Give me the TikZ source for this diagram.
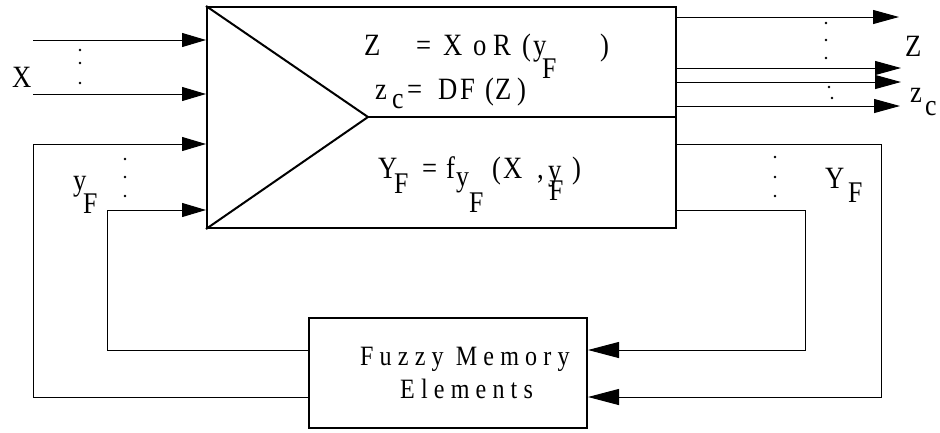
\documentclass[tikz,border=0pt]{standalone}
\usepackage{fontspec}
\setmainfont{Liberation Serif}[FakeStretch=0.86]
\newfontfamily\spacedfont{Liberation Serif}[FakeStretch=0.86,LetterSpace=22]
\usetikzlibrary{arrows.meta}
\begin{document}
\begin{tikzpicture}[x=1pt,y=-1pt,
  lbl/.style={inner sep=0,anchor=base west,font=\fontsize{31}{32}\selectfont},
  sublbl/.style={inner sep=0,anchor=base west,font=\fontsize{30}{31}\selectfont},
  wire/.style={line width=1pt},
  arr/.style={wire,-{Triangle[length=24pt,width=14pt]}},
  arrout/.style={wire,-{Triangle[length=26pt,width=14pt]}},
  arrfm/.style={wire,-{Triangle[length=31pt,width=16pt]}},
  dotmark/.style={circle,fill,inner sep=0,minimum size=2.8pt},
  boxline/.style={draw,line width=2pt,inner sep=0},
]
\useasboundingbox (0,0) rectangle (940,432);
% main block
\node[boxline,minimum width=469pt,minimum height=221pt] (main) at (441.5,117.5) {};
\coordinate (apex) at (368,117);
\draw[line width=2pt] (main.north west) -- (apex) -- (main.south west);
\draw[line width=2.6pt] (apex) -- (apex -| main.east);
% fuzzy memory block
\node[boxline,minimum width=278pt,minimum height=110pt] (fm) at (448,373) {};
\node[inner sep=0,anchor=base west,font=\spacedfont\fontsize{28}{29}\selectfont] (fmt1) at (360,365) {Fuzzy Memory};
\node[inner sep=0,anchor=base west,font=\spacedfont\fontsize{28}{29}\selectfont] (fmt2) at (400,398) {Elements};
% X inputs
\coordinate (xa) at (33,40);
\coordinate (xb) at (33,94);
\draw[arr] (xa) -- (xa -| main.west);
\draw[arr] (xb) -- (xb -| main.west);
\node[dotmark] (dx1) at (80,50) {};
\node[dotmark] (dx2) at (80,63) {};
\node[dotmark] (dx3) at (80,83) {};
\node[lbl] (lx) at (12,87) {X};
% y_F feedback inputs
\coordinate (la) at (33,397);
\coordinate (lat) at (33,144);
\coordinate (lb) at (107,350);
\coordinate (lbt) at (107,210);
\draw[arr] (fm.west |- la) -- (la) -- (lat) -- (lat -| main.west);
\draw[arr] (fm.west |- lb) -- (lb) -- (lbt) -- (lbt -| main.west);
\node[dotmark] (dy1) at (125,159) {};
\node[dotmark] (dy2) at (125,177) {};
\node[dotmark] (dy3) at (125,196) {};
\node[lbl] (ly) at (73,190) {y};
\node[sublbl] (lyf) at (83,213) {F};
% outputs Z and z_c
\coordinate (o1) at (899,17);
\coordinate (o2) at (901,68);
\coordinate (o3) at (901,82);
\coordinate (o4) at (900,106);
\draw[arrout] (o1 -| main.east) -- (o1);
\draw[arrout] (o2 -| main.east) -- (o2);
\draw[arrout] (o3 -| main.east) -- (o3);
\draw[arrout] (o4 -| main.east) -- (o4);
\node[dotmark] (dz1) at (826,23) {};
\node[dotmark] (dz2) at (826,40) {};
\node[dotmark] (dz3) at (826,58) {};
\node[dotmark] (dc1) at (829,87) {};
\node[dotmark] (dc2) at (832,98) {};
\node[lbl] (lz) at (905,56) {Z};
\node[lbl] (lzc) at (910,102) {z};
\node[sublbl] (lzcc) at (925,115) {c};
% Y_F outputs back to memory
\coordinate (ra) at (881,144);
\coordinate (rab) at (881,397);
\coordinate (rb) at (805,210);
\coordinate (rbb) at (805,350);
\draw[arrfm] (ra -| main.east) -- (ra) -- (rab) -- (rab -| fm.east);
\draw[arrfm] (rb -| main.east) -- (rb) -- (rbb) -- (rbb -| fm.east);
\node[dotmark] (dr1) at (775,157) {};
\node[dotmark] (dr2) at (775,177) {};
\node[dotmark] (dr3) at (775,196) {};
\node[lbl] (lyr) at (825,188) {Y};
\node[sublbl] (lyrf) at (848,202) {F};
% equation line 1
\node[lbl] (e1z) at (364,55) {Z};
\node[lbl] (e1eq) at (416,55) {=};
\node[lbl] (e1x) at (443,55) {X};
\node[lbl] (e1o) at (473,55) {o};
\node[lbl] (e1r) at (493,55) {R};
\node[lbl] (e1p) at (522,55) {(};
\node[lbl] (e1y) at (533,55) {y};
\node[lbl] (e1q) at (600,55) {)};
\node[sublbl] (e1f) at (542,78) {F};
% equation line 2
\node[lbl] (e2z) at (375,99) {z};
\node[sublbl] (e2c) at (392,108) {c};
\node[lbl] (e2eq) at (407,99) {=};
\node[lbl] (e2d) at (438,99) {D};
\node[lbl] (e2f) at (460,99) {F};
\node[lbl] (e2p) at (485,99) {(};
\node[lbl] (e2zz) at (495,99) {Z};
\node[lbl] (e2q) at (517,99) {)};
% equation line 3
\node[lbl] (e3y) at (378,178) {Y};
\node[sublbl] (e3f) at (394,193) {F};
\node[lbl] (e3eq) at (422,178) {=};
\node[lbl] (e3ff) at (446,178) {f};
\node[sublbl] (e3y2) at (456,186) {y};
\node[sublbl] (e3f2) at (469,212) {F};
\node[lbl] (e3p) at (492,178) {(};
\node[lbl] (e3x) at (503,178) {X};
\node[lbl] (e3c) at (537,178) {,};
\node[lbl] (e3y3) at (548,180) {y};
\node[sublbl] (e3f3) at (549,200) {F};
\node[lbl] (e3q) at (572,178) {)};
\end{tikzpicture}
\end{document}
